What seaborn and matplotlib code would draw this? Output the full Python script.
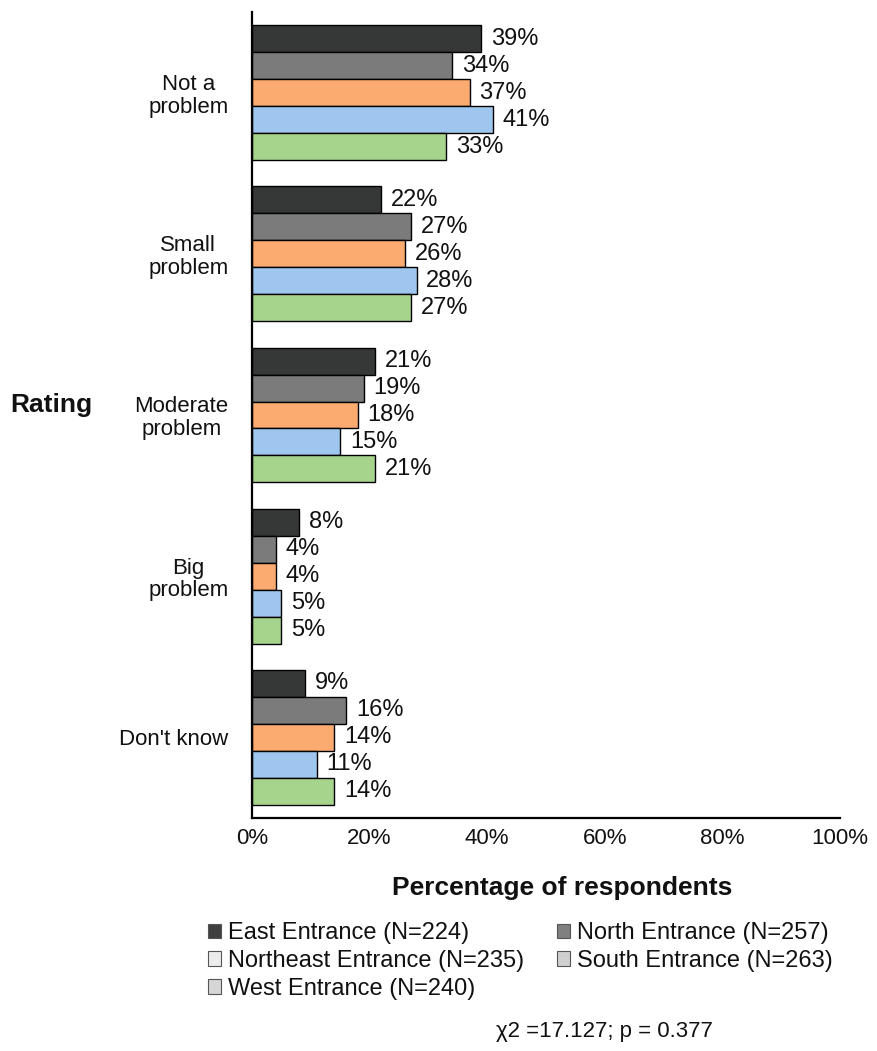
import matplotlib
matplotlib.use("Agg")
import matplotlib.pyplot as plt
import seaborn as sns
import pandas as pd
from matplotlib.patches import Patch
from matplotlib.ticker import FuncFormatter

categories = ["Not a\nproblem", "Small\nproblem", "Moderate\nproblem", "Big\nproblem", "Don't know"]
series = ["East Entrance (N=224)", "North Entrance (N=257)", "Northeast Entrance (N=235)",
          "South Entrance (N=263)", "West Entrance (N=240)"]
east = [39, 22, 21, 8, 9]
north = [34, 27, 19, 4, 16]
northeast = [37, 26, 18, 4, 14]
south = [41, 28, 15, 5, 11]
west = [33, 27, 21, 5, 14]
bar_colors = ["#363838", "#7b7b7b", "#fbaa70", "#9fc6ef", "#a7d48c"]
legend_colors = ["#3f3f3f", "#808080", "#ececec", "#cfcfcf", "#d6d6d6"]

rows = []
for s, vals in zip(series, [east, north, northeast, south, west]):
    for c, v in zip(categories, vals):
        rows.append({"Rating": c, "Entrance": s, "Pct": v})
df = pd.DataFrame(rows)

sns.set_theme(style="white")
plt.rcParams["font.family"] = ["Liberation Sans", "DejaVu Sans"]
plt.rcParams["text.color"] = "#111111"
plt.rcParams["xtick.color"] = "#111111"
plt.rcParams["ytick.color"] = "#111111"

W, H = 877, 1051
fig = plt.figure(figsize=(W / 100, H / 100), dpi=100)
ax = fig.add_axes([252 / W, 1 - 818 / H, (840 - 252) / W, (818 - 12) / H])

sns.barplot(data=df, y="Rating", x="Pct", hue="Entrance", order=categories,
            hue_order=series, palette=bar_colors, orient="h", width=0.837,
            saturation=1, edgecolor="black", linewidth=1.0, ax=ax, legend=False)

for cont in ax.containers:
    ax.bar_label(cont, labels=[f"{int(round(v))}%" for v in cont.datavalues],
                 padding=7, fontsize=17, color="#111111")

ax.set_ylim(4.5, -0.5)
ax.set_xlim(0, 100)
ax.set_xticks([0, 20, 40, 60, 80, 100])
ax.xaxis.set_major_formatter(FuncFormatter(lambda v, p: f"{int(v)}%"))
ax.tick_params(axis="x", labelsize=16, length=6, direction="inout", width=1.2,
               colors="black", labelcolor="#111111", pad=4)
ax.tick_params(axis="y", labelsize=16, length=0, pad=17, labelcolor="#111111")
for lbl in ax.get_yticklabels():
    lbl.set_multialignment("center")
    lbl.set_linespacing(1.1)
ax.set_ylabel("")
ax.set_xlabel("")
for sp in ["top", "right"]:
    ax.spines[sp].set_visible(False)
for sp in ["left", "bottom"]:
    ax.spines[sp].set_color("black")
    ax.spines[sp].set_linewidth(1.6)

fig.text(562 / W, 1 - 888 / H, "Percentage of respondents", fontsize=19,
         fontweight="bold", ha="center", va="center")
fig.text(10 / W, 1 - 405 / H, "Rating", fontsize=19, fontweight="bold",
         ha="left", va="center")

handles = [Patch(facecolor=c, edgecolor="#555555", linewidth=0.8) for c in legend_colors]
order = [0, 2, 4, 1, 3]
fig.legend([handles[i] for i in order], [series[i] for i in order], loc="upper left",
           bbox_to_anchor=(208 / W, 1 - 922 / H), ncol=2, frameon=False, fontsize=17,
           handlelength=0.55, handleheight=0.55, handletextpad=0.3, columnspacing=1.4,
           labelspacing=0.25, borderaxespad=0, borderpad=0)

fig.text(604 / W, 1 - 1031 / H, "χ2 =17.127; p = 0.377", fontsize=16,
         ha="center", va="center")

fig.savefig("out.png", dpi=100)
